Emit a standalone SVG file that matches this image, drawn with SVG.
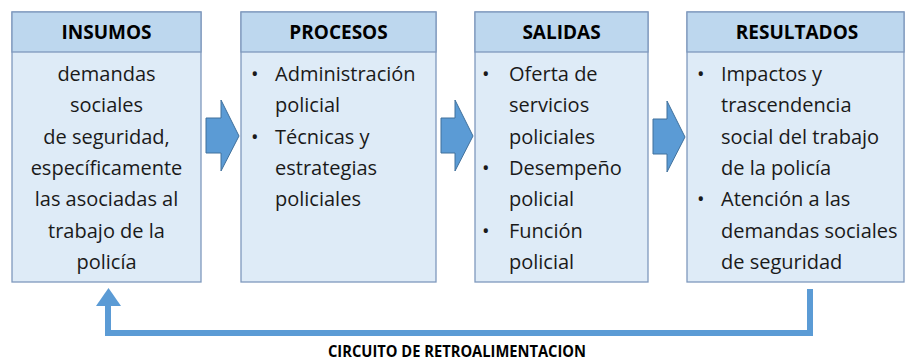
<svg xmlns="http://www.w3.org/2000/svg" width="907" height="363" viewBox="0 0 907 363">
<style>
.hdr{fill:#bdd7ee;stroke:#7f99bd;stroke-width:1.3}
.bdy{fill:#deebf7;stroke:#7f99bd;stroke-width:1.3}
.ht{font-family:"Open Sans","Liberation Sans",sans-serif;font-weight:bold;font-size:19px;fill:#000;text-anchor:middle}
.bt{font-family:"Open Sans","Liberation Sans",sans-serif;font-size:20px;fill:#1a1a1a}
.mid{text-anchor:middle}
.blk{fill:#5b9bd5;stroke:#41719c;stroke-width:1}
.fb{fill:none;stroke:#5b9bd5;stroke-width:6;stroke-linejoin:miter}
.lbl{font-family:"Open Sans","Liberation Sans",sans-serif;font-weight:bold;font-size:16px;fill:#000;text-anchor:middle}
</style>
<rect width="907" height="363" fill="#fff"/>
<g id="insumos">
<rect class="bdy" x="12" y="12" width="189" height="270"/>
<rect class="hdr" x="12" y="12" width="189" height="40"/>
<text class="ht" x="106.5" y="39">INSUMOS</text>
<text class="bt mid" x="106.5" y="81">demandas</text>
<text class="bt mid" x="106.5" y="112.3">sociales</text>
<text class="bt mid" x="106.5" y="143.6">de seguridad,</text>
<text class="bt mid" x="106.5" y="174.9">específicamente</text>
<text class="bt mid" x="106.5" y="206.2">las asociadas al</text>
<text class="bt mid" x="106.5" y="237.5">trabajo de la</text>
<text class="bt mid" x="106.5" y="268.8">policía</text>
</g>
<g id="procesos">
<rect class="bdy" x="241" y="12" width="195" height="270"/>
<rect class="hdr" x="241" y="12" width="195" height="40"/>
<text class="ht" x="338.5" y="39">PROCESOS</text>
<text class="bt" x="251" y="81">•</text>
<text class="bt" x="275" y="81">Administración</text>
<text class="bt" x="275" y="112.3">policial</text>
<text class="bt" x="251" y="143.6">•</text>
<text class="bt" x="275" y="143.6">Técnicas y</text>
<text class="bt" x="275" y="174.9">estrategias</text>
<text class="bt" x="275" y="206.2">policiales</text>
</g>
<g id="salidas">
<rect class="bdy" x="475" y="12" width="173" height="270"/>
<rect class="hdr" x="475" y="12" width="173" height="40"/>
<text class="ht" x="561.5" y="39">SALIDAS</text>
<text class="bt" x="482" y="81">•</text>
<text class="bt" x="509" y="81">Oferta de</text>
<text class="bt" x="509" y="112.3">servicios</text>
<text class="bt" x="509" y="143.6">policiales</text>
<text class="bt" x="482" y="174.9">•</text>
<text class="bt" x="509" y="174.9">Desempeño</text>
<text class="bt" x="509" y="206.2">policial</text>
<text class="bt" x="482" y="237.5">•</text>
<text class="bt" x="509" y="237.5">Función</text>
<text class="bt" x="509" y="268.8">policial</text>
</g>
<g id="resultados">
<rect class="bdy" x="687" y="12" width="217" height="270"/>
<rect class="hdr" x="687" y="12" width="217" height="40"/>
<text class="ht" x="797" y="39">RESULTADOS</text>
<text class="bt" x="697" y="81">•</text>
<text class="bt" x="721" y="81">Impactos y</text>
<text class="bt" x="721" y="112.3">trascendencia</text>
<text class="bt" x="721" y="143.6">social del trabajo</text>
<text class="bt" x="721" y="174.9">de la policía</text>
<text class="bt" x="697" y="206.2">•</text>
<text class="bt" x="721" y="206.2">Atención a las</text>
<text class="bt" x="721" y="237.5">demandas sociales</text>
<text class="bt" x="721" y="268.8">de seguridad</text>
</g>
<g id="connectors">
<polygon class="blk" points="206,118 221,118 221,100 239,136 221,171 221,153 206,153"/>
<polygon class="blk" points="441,118 455,118 455,100 473,136 455,171 455,153 441,153"/>
<polygon class="blk" points="653,119 667,119 667,101 685,137 667,172 667,154 653,154"/>
<path class="fb" d="M810,289 V333 H108 V304"/>
<polygon points="96,306 108.5,288 121,306" fill="#5b9bd5"/>
</g>
<text class="lbl" x="457" y="357" textLength="258" lengthAdjust="spacingAndGlyphs">CIRCUITO DE RETROALIMENTACION</text>
</svg>
